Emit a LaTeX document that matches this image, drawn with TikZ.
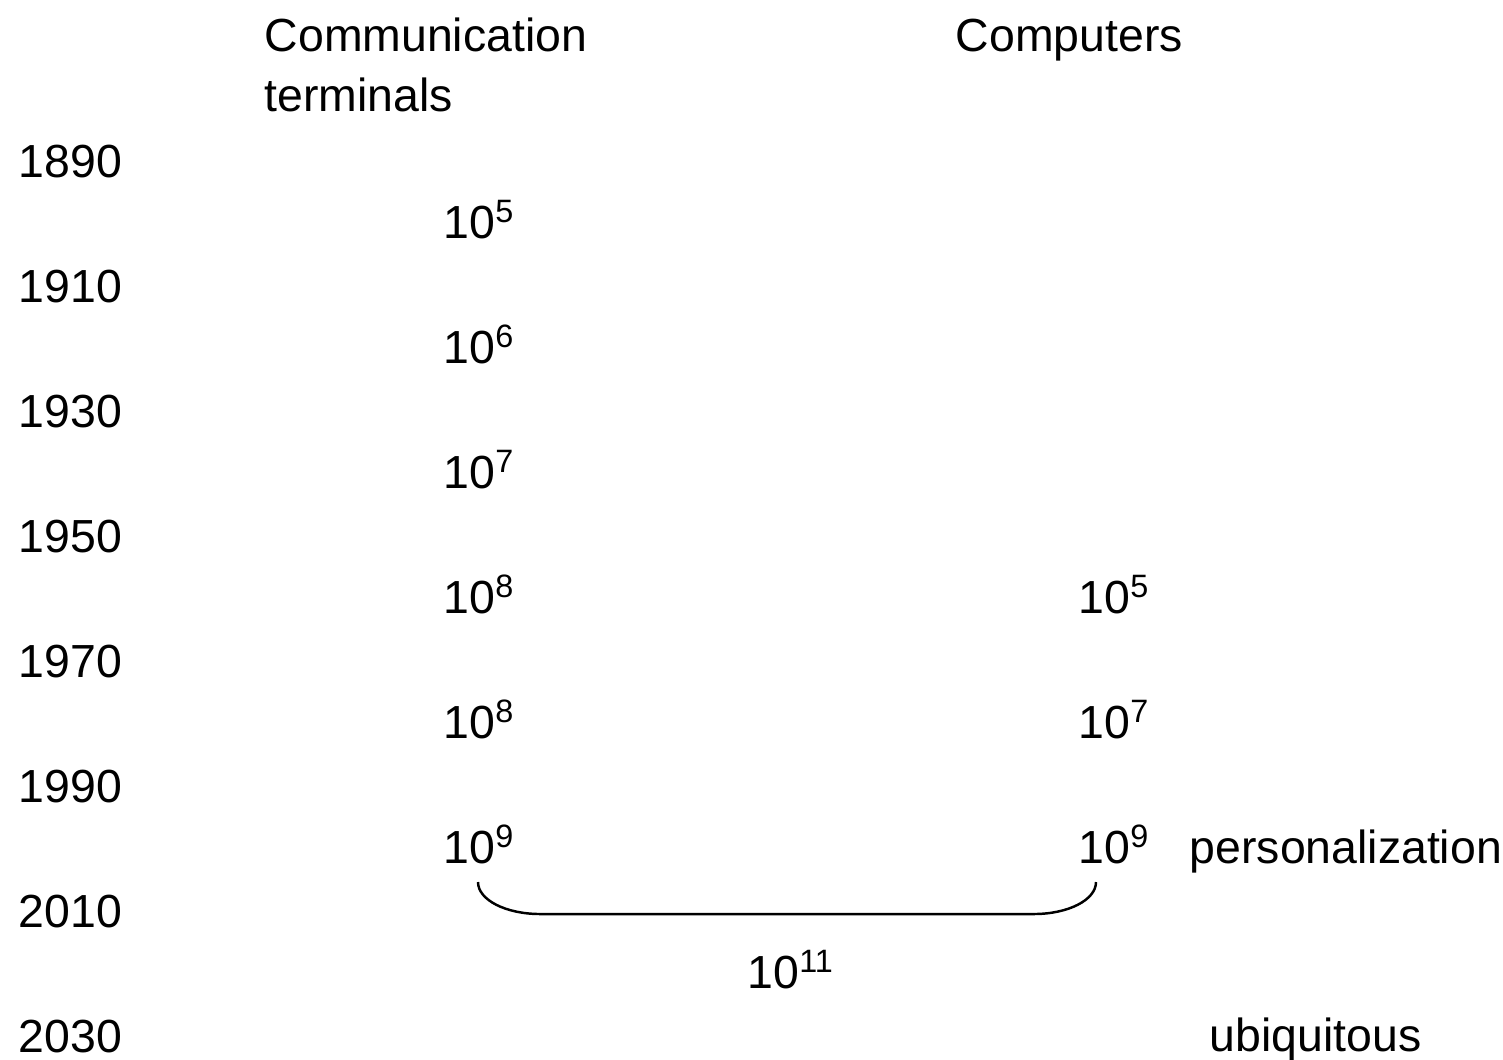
\documentclass[tikz,border=0pt]{standalone}
\usepackage{fontspec}
\setmainfont{Liberation Sans}
\usetikzlibrary{positioning}
\newcommand{\tenp}[1]{10\raisebox{4.4pt}{\fontsize{9.2}{10}\selectfont #1}}
\tikzset{
  lbl/.style={anchor=base west,inner sep=0pt,font=\fontsize{13.2}{16}\selectfont},
  brace/.style={black,line width=0.7pt}
}

\begin{document}
\begin{tikzpicture}[x=0.01cm,y=-0.01cm]
  \useasboundingbox (0,0) rectangle (1503,1059);
  % column heads
  \node[lbl] (comm) at (264,51) {Communication};
  \node[lbl] (term) at (264,111) {terminals};
  \node[lbl] (comp) at (955,51) {Computers};
  % years
  \foreach \yr [count=\i from 0] in {1890,1910,1930,1950,1970,1990,2010,2030}
    \node[lbl] (y\yr) at (18,{177+125*\i}) {\yr};
  % communication terminals
  \foreach \e [count=\i from 0] in {5,6,7,8,8,9}
    \node[lbl] (t\i) at (443,{238+125*\i}) {\tenp{\e}};
  % computers
  \foreach \e [count=\i from 3] in {5,7,9}
    \node[lbl] (c\i) at (1078,{238+125*\i}) {\tenp{\e}};
  \node[lbl] (pers) at (1189,863) {personalization};
  \node[lbl] (ubiq) at (1209,1051) {ubiquitous};
  % sum of both
  \coordinate (bl) at (478,882);
  \coordinate (br) at (1096,882);
  \draw[brace] (bl) .. controls (478,900) and (506,914) .. (540,914)
    -- (1034,914) .. controls (1068,914) and (1096,900) .. (br);
  \node[lbl] (sum) at (747,988) {\tenp{11}};
\end{tikzpicture}
\end{document}
